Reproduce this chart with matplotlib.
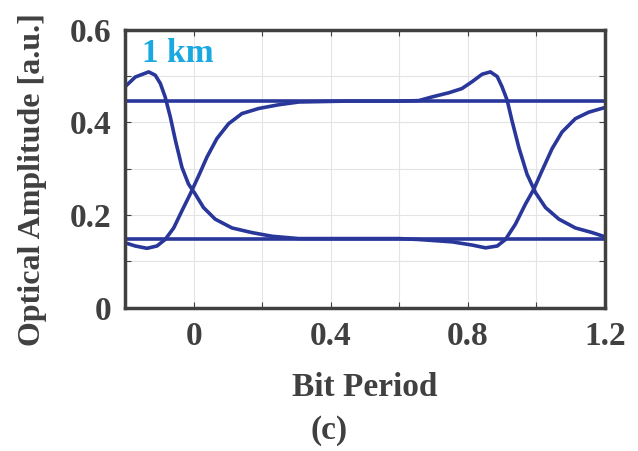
import matplotlib.pyplot as plt

# Eye diagram traces
bit_a = [-0.2, -0.17, -0.131, -0.112, -0.097, -0.083, -0.068, -0.053, -0.034, -0.015,
         0.005, 0.029, 0.063, 0.112, 0.17, 0.229, 0.307, 0.45, 0.6, 0.657, 0.754,
         0.813, 0.852, 0.886, 0.91, 0.939, 0.968, 0.993, 1.017, 1.046, 1.075,
         1.114, 1.153, 1.2]
amp_a = [0.477, 0.498, 0.509, 0.502, 0.484, 0.455, 0.412, 0.361, 0.303, 0.267,
         0.245, 0.216, 0.191, 0.172, 0.162, 0.154, 0.149, 0.149, 0.149, 0.147, 0.142,
         0.135, 0.129, 0.133, 0.147, 0.180, 0.223, 0.256, 0.296, 0.343, 0.379,
         0.408, 0.422, 0.432]

bit_b = [-0.2, -0.17, -0.136, -0.107, -0.083, -0.058, -0.034, -0.010, 0.015, 0.039,
         0.068, 0.102, 0.141, 0.19, 0.248, 0.307, 0.45, 0.6, 0.657, 0.696, 0.745,
         0.783, 0.813, 0.842, 0.866, 0.886, 0.9, 0.915, 0.929, 0.949, 0.973, 0.998,
         1.027, 1.066, 1.114, 1.163, 1.2]
amp_b = [0.140, 0.133, 0.128, 0.133, 0.147, 0.172, 0.209, 0.245, 0.285, 0.325,
         0.365, 0.397, 0.419, 0.430, 0.438, 0.444, 0.446, 0.446, 0.447, 0.455, 0.464,
         0.473, 0.488, 0.504, 0.509, 0.499, 0.477, 0.448, 0.404, 0.346, 0.288, 0.248,
         0.216, 0.191, 0.172, 0.162, 0.153]

level_high = 0.447
level_low = 0.149

xticks = [-0.2, 0, 0.2, 0.4, 0.6, 0.8, 1.0, 1.2]
xtick_labels = ['', '0', '', '0.4', '', '0.8', '', '1.2']
yticks = [0, 0.1, 0.2, 0.3, 0.4, 0.5, 0.6]
ytick_labels = ['0', '', '0.2', '', '0.4', '', '0.6']

plt.rcParams['font.family'] = ['Liberation Serif', 'DejaVu Serif']
plt.rcParams['font.weight'] = 'bold'
plt.rcParams['axes.labelweight'] = 'bold'

txt = '#404040'
line_col = '#29379a'

fig = plt.figure(figsize=(6.38, 4.51), dpi=100)
ax = fig.add_axes([0.196, 0.318, 0.752, 0.616])

ax.axhline(level_high, color=line_col, lw=2.6)
ax.axhline(level_low, color=line_col, lw=2.6)
ax.plot(bit_a, amp_a, color=line_col, lw=2.6, solid_joinstyle='round', solid_capstyle='round')
ax.plot(bit_b, amp_b, color=line_col, lw=2.6, solid_joinstyle='round', solid_capstyle='round')

ax.set_xlim(-0.2, 1.2)
ax.set_ylim(0, 0.6)
ax.set_xticks(xticks)
ax.set_xticklabels(xtick_labels)
ax.set_yticks(yticks)
ax.set_yticklabels(ytick_labels)
ax.tick_params(direction='in', length=4, width=0.8, colors=txt, labelsize=24,
               top=True, right=True, pad=10)
ax.grid(True, color='#e4e4e4', lw=0.8)
ax.set_axisbelow(True)
for s in ax.spines.values():
    s.set_linewidth(2.5)
    s.set_color(txt)

ax.set_xlabel('Bit Period', fontsize=24, color=txt, labelpad=14)
ax.set_ylabel('Optical Amplitude [a.u.]', fontsize=23, color=txt)
ax.yaxis.set_label_coords(-0.163, 0.46)
ax.text(0.035, 0.97, '1 km', transform=ax.transAxes, fontsize=24, color='#1aa8e0',
        fontweight='bold', va='top', ha='left')

fig.text(0.516, 0.045, '(c)', fontsize=24, color=txt, ha='center', va='center')

fig.savefig('out.png', dpi=100)
